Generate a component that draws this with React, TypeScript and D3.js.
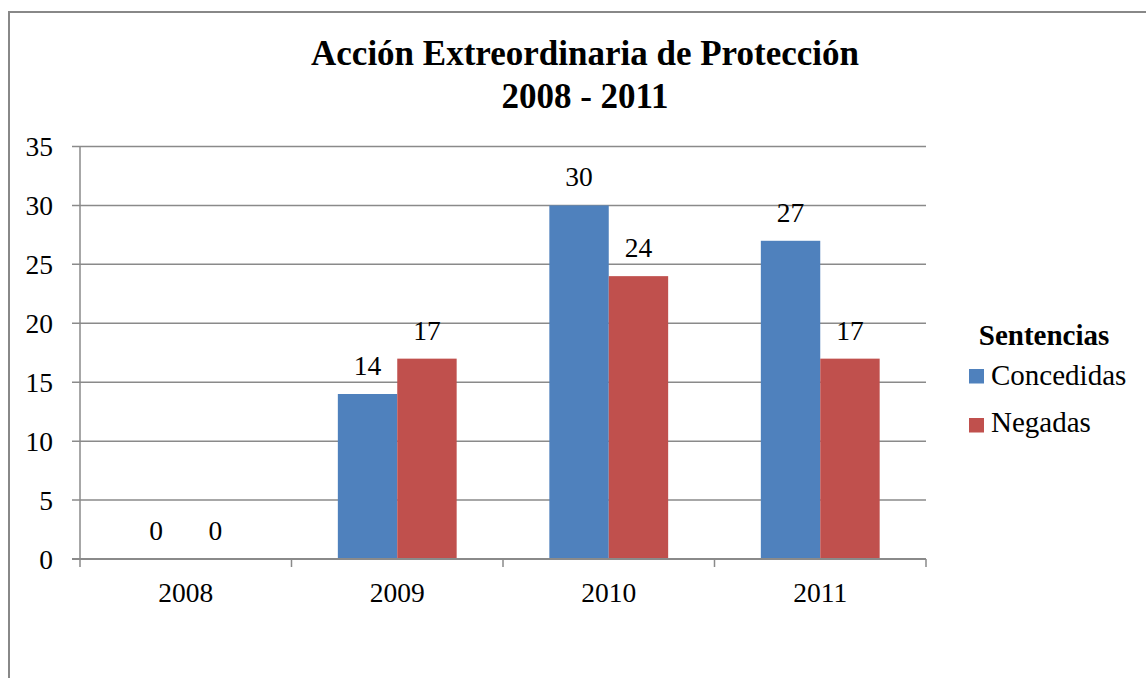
import React from "react";
import * as d3 from "d3";

const categories = ["2008", "2009", "2010", "2011"];
const concedidas = [0, 14, 30, 27];
const negadas = [0, 17, 24, 17];
const yTicks = [0, 5, 10, 15, 20, 25, 30, 35];
const seriesNames = ["Concedidas", "Negadas"];
const colors = ["#4F81BD", "#C0504D"];

const W = 1146;
const H = 678;
const left = 80;
const right = 926;
const top = 146.5;
const bottom = 559;
const font = "'Liberation Serif', 'Times New Roman', serif";

export default function App() {
  const x = d3.scaleBand<string>().domain(categories).range([left, right]).paddingInner(0).paddingOuter(0);
  const y = d3.scaleLinear().domain([0, 35]).range([bottom, top]);
  const inner = d3.scaleBand<number>().domain([0, 1]).range([0, x.bandwidth()]).paddingInner(0).paddingOuter(0.78);
  const series = [concedidas, negadas];

  return (
    <svg width={W} height={H} style={{ position: "absolute", left: 0, top: 0, display: "block" }}>
      <rect x={0} y={0} width={W} height={H} fill="#fff" />
      <rect x={9} y={12} width={W + 20} height={H + 20} fill="none" stroke="#888" strokeWidth={2} />
      <text x={585} y={65} textAnchor="middle" fontFamily={font} fontWeight="bold" fontSize={35}>
        Acción Extreordinaria de Protección
      </text>
      <text x={585} y={108} textAnchor="middle" fontFamily={font} fontWeight="bold" fontSize={35}>
        2008 - 2011
      </text>
      {yTicks.map((t) => (
        <g key={t}>
          <line x1={72} x2={right} y1={y(t)} y2={y(t)} stroke="#8a8a8a" strokeWidth={1.5} />
          <text x={53} y={y(t) + 9.5} textAnchor="end" fontFamily={font} fontSize={27.5}>
            {t}
          </text>
        </g>
      ))}
      <line x1={left} x2={left} y1={top} y2={bottom + 8} stroke="#8a8a8a" strokeWidth={1.5} />
      {categories.map((c) => (
        <line key={c} x1={x(c)! + x.bandwidth()} x2={x(c)! + x.bandwidth()} y1={bottom} y2={bottom + 8} stroke="#8a8a8a" strokeWidth={1.5} />
      ))}
      {categories.map((c, i) =>
        series.map((s, si) => {
          const bx = x(c)! + inner(si)!;
          const bw = inner.bandwidth();
          return (
            <g key={c + si}>
              <rect x={bx} y={y(s[i])} width={bw} height={bottom - y(s[i])} fill={colors[si]} />
              <text x={bx + bw / 2} y={y(s[i]) - 19} textAnchor="middle" fontFamily={font} fontSize={27.5}>
                {s[i]}
              </text>
            </g>
          );
        })
      )}
      <line x1={72} x2={right} y1={bottom} y2={bottom} stroke="#8a8a8a" strokeWidth={2} />
      {categories.map((c) => (
        <text key={c} x={x(c)! + x.bandwidth() / 2} y={602} textAnchor="middle" fontFamily={font} fontSize={27.5}>
          {c}
        </text>
      ))}
      <text x={1044} y={345} textAnchor="middle" fontFamily={font} fontWeight="bold" fontSize={29}>
        Sentencias
      </text>
      {seriesNames.map((n, i) => (
        <g key={n}>
          <rect x={969} y={369 + i * 49} width={15} height={14.5} fill={colors[i]} />
          <text x={991} y={385 + i * 47} fontFamily={font} fontSize={29}>
            {n}
          </text>
        </g>
      ))}
    </svg>
  );
}
